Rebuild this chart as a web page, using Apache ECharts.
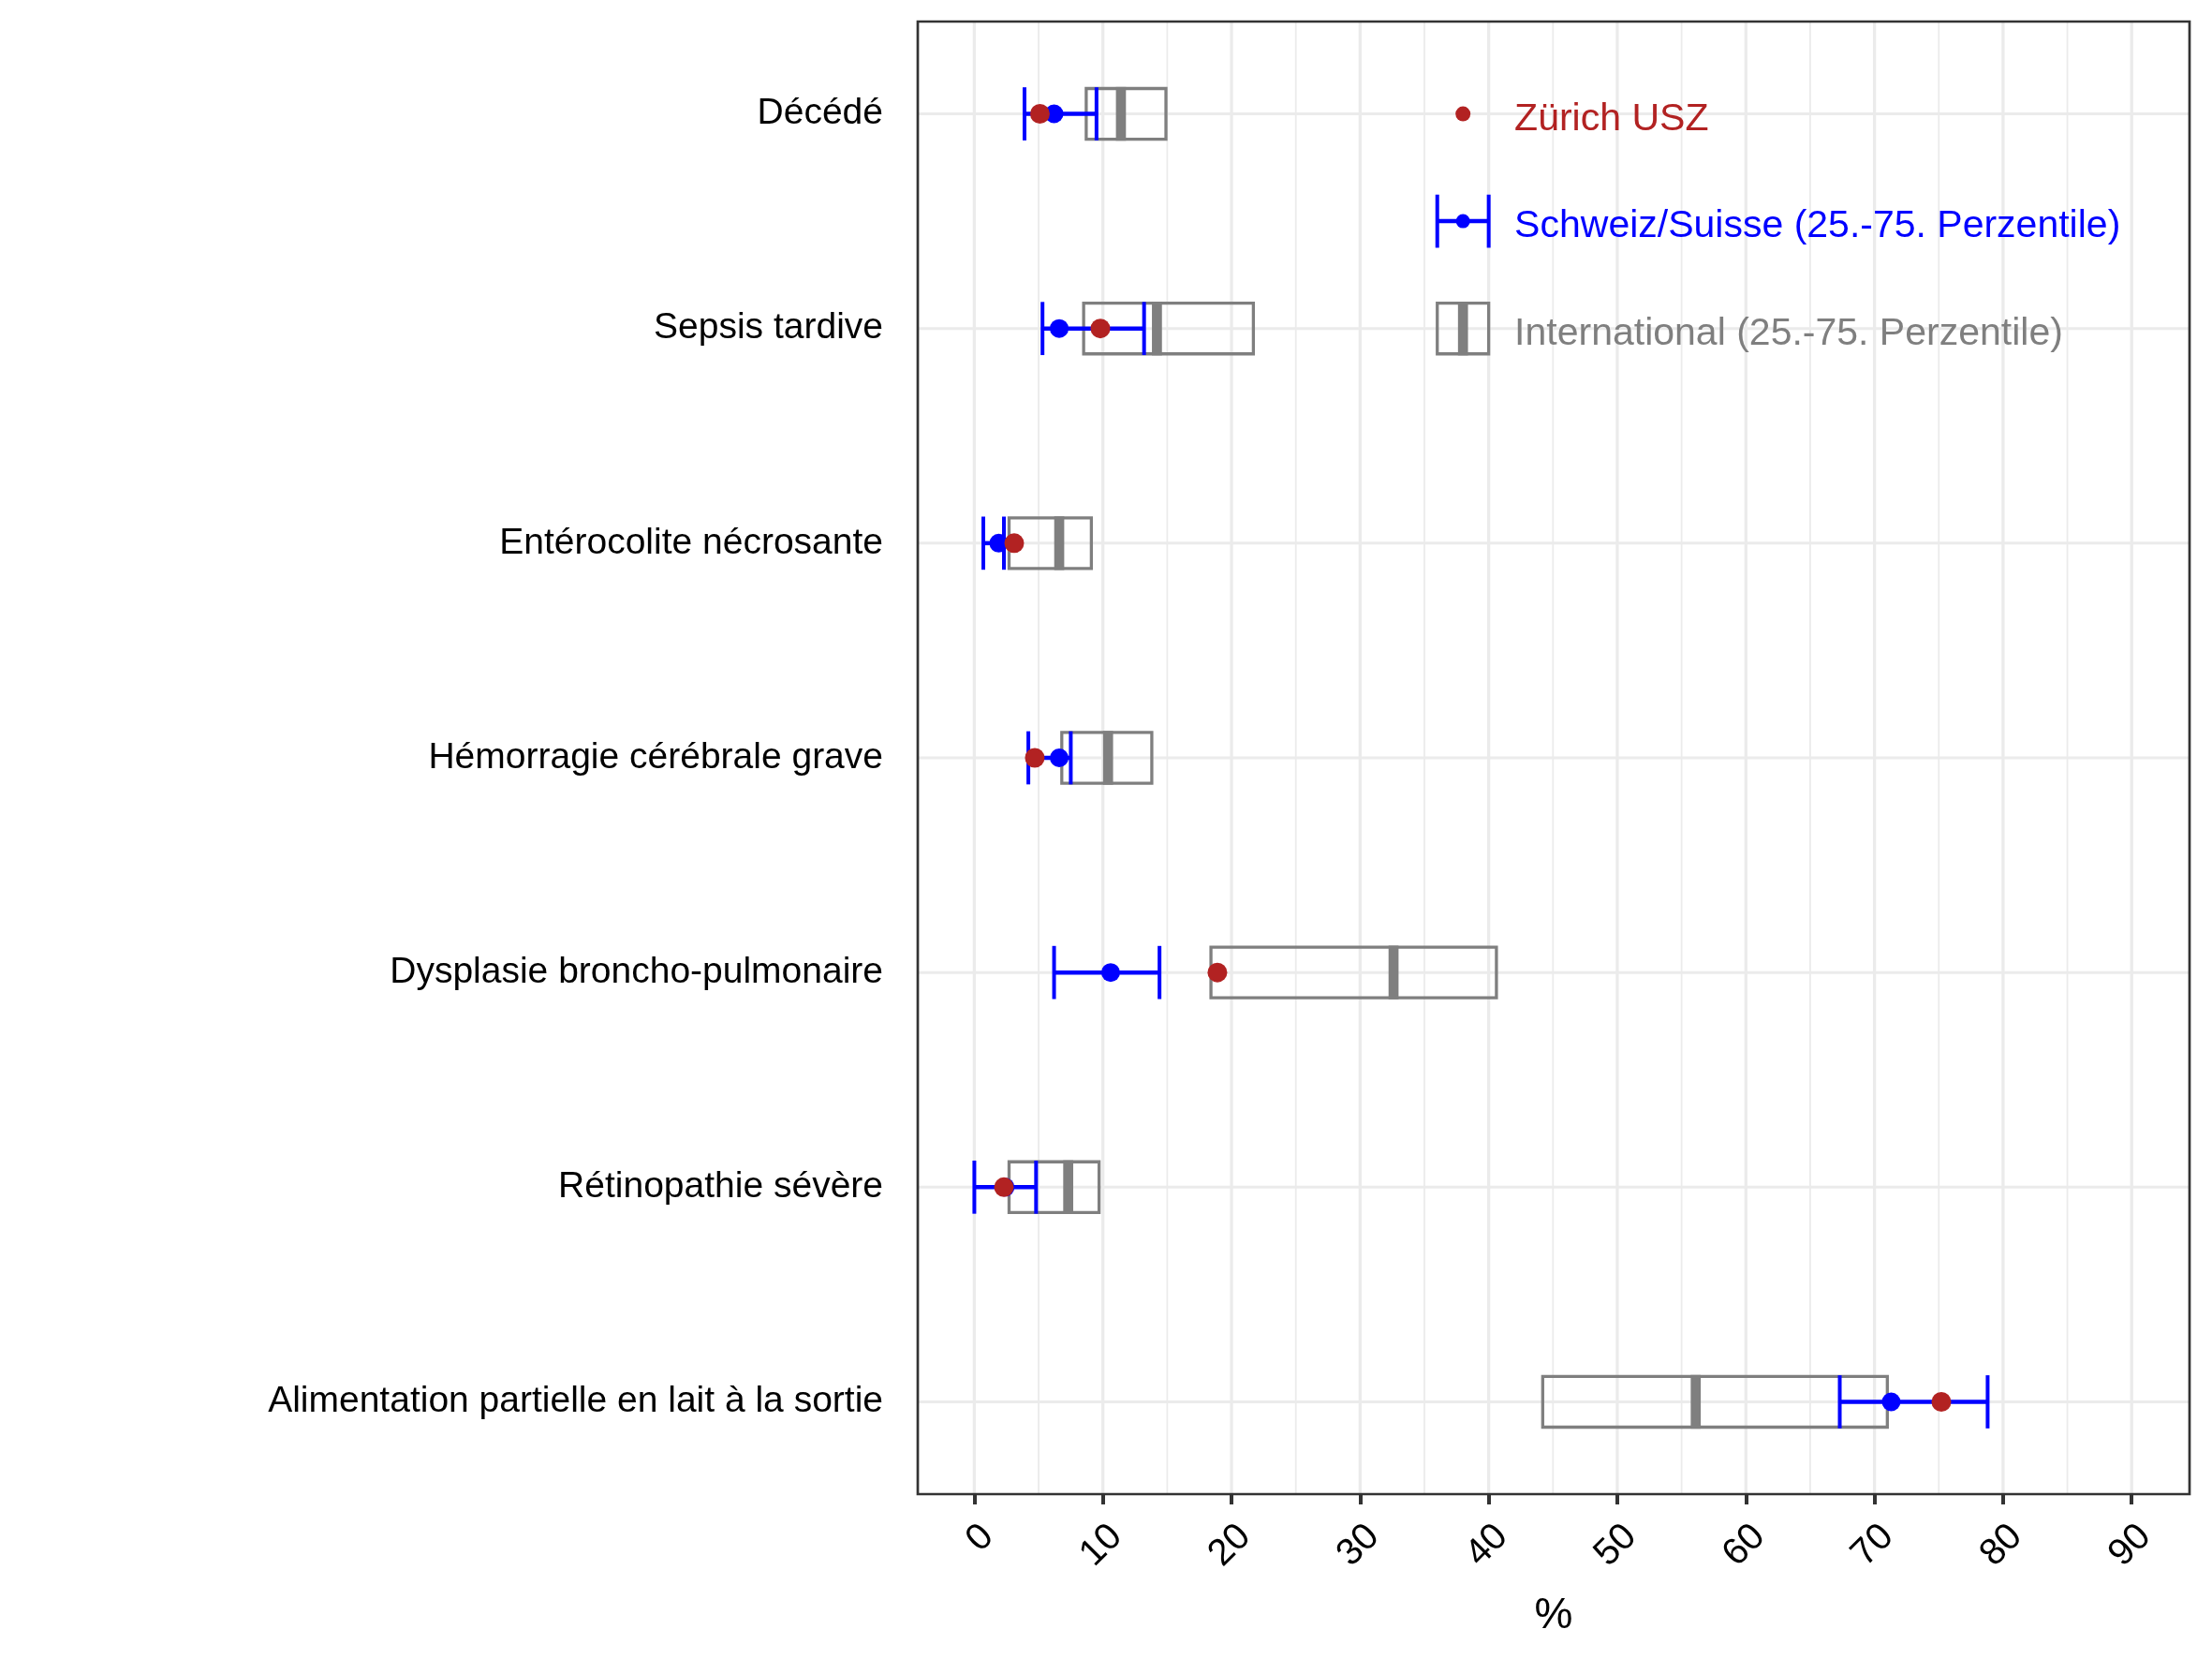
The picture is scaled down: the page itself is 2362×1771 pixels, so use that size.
<!DOCTYPE html>
<html>
<head>
<meta charset="utf-8">
<script src="https://cdn.jsdelivr.net/npm/echarts@6/dist/echarts.min.js"></script>
<style>html,body{margin:0;padding:0;background:#fff}#c{width:2362px;height:1771px}</style>
</head>
<body>
<div id="c"></div>
<script>
// ---------- data ----------
const categories = [
  'Décédé',
  'Sepsis tardive',
  'Entérocolite nécrosante',
  'Hémorragie cérébrale grave',
  'Dysplasie broncho-pulmonaire',
  'Rétinopathie sévère',
  'Alimentation partielle en lait à la sortie'
];
const zurichUSZ   = [5.1, 9.8, 3.1, 4.7, 18.9, 2.3, 75.2];
const swissP25    = [3.9, 5.3, 0.7, 4.2, 6.2, 0.0, 67.3];
const swissMedian = [6.2, 6.6, 1.9, 6.6, 10.6, 2.4, 71.3];
const swissP75    = [9.5, 13.2, 2.3, 7.5, 14.4, 4.8, 78.8];
const intlP25     = [8.7, 8.5, 2.7, 6.8, 18.4, 2.7, 44.2];
const intlMedian  = [11.4, 14.2, 6.6, 10.4, 32.6, 7.3, 56.1];
const intlP75     = [14.9, 21.7, 9.1, 13.8, 40.6, 9.7, 71.0];
const xTicks      = [0, 10, 20, 30, 40, 50, 60, 70, 80, 90];
const xMinorTicks = [5, 15, 25, 35, 45, 55, 65, 75, 85];
const legendLabels = ['Zürich USZ', 'Schweiz/Suisse (25.-75. Perzentile)', 'International (25.-75. Perzentile)'];

// ---------- layout / style constants ----------
const FONT = '"Liberation Sans", Arial, Helvetica, sans-serif';
const RED = '#B22222', BLUE = '#0000FF', GREY = '#7F7F7F', GRIDC = '#EBEBEB';
const X_MIN = -4.4, X_MAX = 94.5, Y_MIN = 0.57, Y_MAX = 7.43;
const BOX_H = 0.236, CAP_H = 0.2475;
const LEG = { rows: [1, 1.5, 2], left: 36, mid: 38, right: 40, textX: 42 };

const rowPos = categories.map((_, i) => i + 1);

const gridData = [
  ...xTicks.map(v => [0, v]),
  ...xMinorTicks.map(v => [1, v]),
  ...rowPos.map(v => [2, v])
];

function drawBox(api, q1, med, q3, y) {
  const a = api.coord([q1, y]), m = api.coord([med, y]), b = api.coord([q3, y]);
  const h = api.size([0, BOX_H])[1];
  const lw = 3.3;
  return [
    { type: 'rect', shape: { x: a[0], y: a[1] - h / 2, width: b[0] - a[0], height: h },
      style: { fill: 'none', stroke: GREY, lineWidth: lw } },
    { type: 'rect', shape: { x: m[0] - 5.35, y: a[1] - h / 2 - lw / 2, width: 10.7, height: h + lw },
      style: { fill: GREY } }
  ];
}
function drawErr(api, lo, hi, y) {
  const a = api.coord([lo, y]), b = api.coord([hi, y]);
  const h = api.size([0, CAP_H])[1];
  return [
    { type: 'line', shape: { x1: a[0], y1: a[1], x2: b[0], y2: b[1] }, style: { stroke: BLUE, lineWidth: 4.5 } },
    { type: 'line', shape: { x1: a[0], y1: a[1] - h / 2, x2: a[0], y2: a[1] + h / 2 }, style: { stroke: BLUE, lineWidth: 4 } },
    { type: 'line', shape: { x1: b[0], y1: b[1] - h / 2, x2: b[0], y2: b[1] + h / 2 }, style: { stroke: BLUE, lineWidth: 4 } }
  ];
}

const chart = echarts.init(document.getElementById('c'), null, { renderer: 'canvas' });
chart.setOption({
  animation: false,
  backgroundColor: '#fff',
  grid: {
    left: 980, right: 24, top: 23, bottom: 176,
    show: true, borderColor: '#333333', borderWidth: 2.7,
    containLabel: false, outerBoundsMode: 'none'
  },
  xAxis: {
    type: 'value', min: X_MIN, max: X_MAX,
    axisLine: { show: false },
    splitLine: { show: false },
    axisTick: { show: true, customValues: xTicks, length: 11, lineStyle: { color: '#333333', width: 4 } },
    axisLabel: {
      customValues: xTicks, rotate: 45, fontSize: 40, color: '#000', fontFamily: FONT,
      margin: 25, verticalAlign: 'top'
    },
    name: '%', nameLocation: 'middle', nameGap: 107,
    nameTextStyle: { fontSize: 46, color: '#000', fontFamily: FONT }
  },
  yAxis: {
    type: 'value', min: Y_MIN, max: Y_MAX, inverse: true,
    axisLine: { show: false }, axisTick: { show: false }, splitLine: { show: false },
    axisLabel: {
      customValues: rowPos,
      formatter: v => categories[Math.round(v) - 1] || '',
      fontSize: 39, color: '#000', fontFamily: FONT, margin: 37,
      padding: [0, 0, 15, 0]
    }
  },
  series: [
    {
      name: 'gridlines', type: 'custom', z: -1, silent: true,
      data: gridData,
      encode: { x: 1 },
      renderItem: (params, api) => {
        const kind = api.value(0), v = api.value(1);
        let a, b, w;
        if (kind === 2) { a = api.coord([X_MIN, v]); b = api.coord([X_MAX, v]); w = 3; }
        else { a = api.coord([v, Y_MIN]); b = api.coord([v, Y_MAX]); w = kind === 0 ? 3.3 : 1.8; }
        return { type: 'line', shape: { x1: a[0], y1: a[1], x2: b[0], y2: b[1] }, style: { stroke: GRIDC, lineWidth: w } };
      }
    },
    {
      name: 'International (25.-75. Perzentile)', type: 'custom', silent: true,
      data: rowPos.map((y, i) => [y, intlP25[i], intlMedian[i], intlP75[i]]),
      encode: { x: [1, 2, 3], y: 0 },
      renderItem: (params, api) => ({
        type: 'group',
        children: drawBox(api, api.value(1), api.value(2), api.value(3), api.value(0))
      })
    },
    {
      name: 'Schweiz/Suisse (25.-75. Perzentile)', type: 'custom', silent: true,
      data: rowPos.map((y, i) => [y, swissP25[i], swissP75[i]]),
      encode: { x: [1, 2], y: 0 },
      renderItem: (params, api) => ({
        type: 'group',
        children: drawErr(api, api.value(1), api.value(2), api.value(0))
      })
    },
    {
      name: 'Schweiz/Suisse median', type: 'scatter', silent: true,
      data: rowPos.map((y, i) => [swissMedian[i], y]),
      symbol: 'circle', symbolSize: 20,
      itemStyle: { color: BLUE, opacity: 1 }
    },
    {
      name: 'Zürich USZ', type: 'scatter', silent: true,
      data: rowPos.map((y, i) => [zurichUSZ[i], y]),
      symbol: 'circle', symbolSize: 21,
      itemStyle: { color: RED, opacity: 1 }
    },
    {
      name: 'legend', type: 'custom', silent: true, z: 10,
      data: legendLabels.map((t, i) => [i]),
      encode: { x: 0 },
      renderItem: (params, api) => {
        const i = params.dataIndex;
        const y = LEG.rows[i];
        const children = [];
        const c = api.coord([LEG.mid, y]);
        if (i === 0) {
          children.push({ type: 'circle', shape: { cx: c[0], cy: c[1], r: 8 }, style: { fill: RED } });
        } else if (i === 1) {
          children.push(...drawErr(api, LEG.left, LEG.right, y));
          children.push({ type: 'circle', shape: { cx: c[0], cy: c[1], r: 7.5 }, style: { fill: BLUE } });
        } else {
          children.push(...drawBox(api, LEG.left, LEG.mid, LEG.right, y));
        }
        const t = api.coord([LEG.textX, y]);
        children.push({
          type: 'text', x: t[0], y: t[1] + 6,
          style: {
            text: legendLabels[i], fill: [RED, BLUE, GREY][i],
            fontSize: 41, fontFamily: FONT, align: 'left', verticalAlign: 'middle'
          }
        });
        return { type: 'group', children };
      }
    }
  ]
});
</script>
</body>
</html>
